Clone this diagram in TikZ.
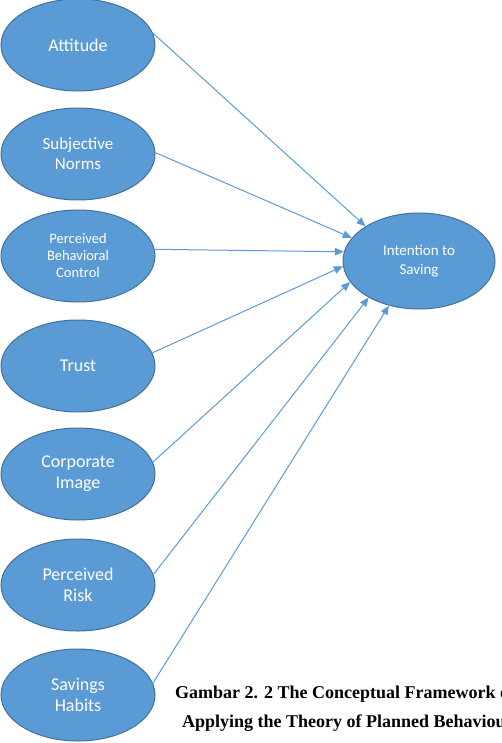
\documentclass[tikz,border=0pt]{standalone}
\usepackage{fontspec}
\setmainfont{Liberation Serif}
\newfontfamily\calib{Carlito}
\usetikzlibrary{shapes.geometric,arrows.meta}
\definecolor{ofill}{HTML}{5B9BD5}
\definecolor{oline}{HTML}{41719C}
\tikzset{
  blob/.style={ellipse, draw=oline, line width=1pt, fill=ofill, text=white,
    minimum width=154pt, minimum height=92pt, inner sep=0pt, align=center, font=\calib},
  link/.style={draw=ofill, line width=1pt, -{Triangle[length=9pt,width=7.5pt]}},
  captext/.style={anchor=base west, inner sep=0pt, font=\fontsize{18}{20}\selectfont\bfseries}
}
\begin{document}
\begin{tikzpicture}[x=1pt,y=-1pt]
\useasboundingbox (0,0) rectangle (502,743);
\clip (0,0) rectangle (502,743);
\node[blob, font=\calib\fontsize{18}{22}\selectfont] (att) at (78,45) {Attitude};
\node[blob, font=\calib\fontsize{17}{20}\selectfont] (sn) at (78,154) {Subjective\\Norms};
\node[blob, font=\calib\fontsize{14.5}{17}\selectfont] (pbc) at (78,256) {Perceived\\Behavioral\\Control};
\node[blob, font=\calib\fontsize{18}{22}\selectfont] (tr) at (78,366) {Trust};
\node[blob, font=\calib\fontsize{18}{21}\selectfont] (ci) at (78,474) {Corporate\\Image};
\node[blob, font=\calib\fontsize{18}{21}\selectfont] (pr) at (78,585) {Perceived\\Risk};
\node[blob, font=\calib\fontsize{18}{21}\selectfont] (sh) at (78,695) {Savings\\Habits};
\node[blob, minimum width=152pt, minimum height=96pt, font=\calib\fontsize{15}{19}\selectfont] (its) at (419,261) {Intention to\\Saving};
\draw[link] (att.9) -- (its.147);
\draw[link] (sn.1) -- (its.161);
\draw[link] (pbc.5) -- (its.173);
\draw[link] (tr.10) -- (its.184);
\draw[link] (ci.9) -- (its.197);
\draw[link] (pr.8) -- (its.216);
\draw[link] (sh.9) -- (its.236);
\node[captext] (c1) at (175,698) {Gambar 2. 2 The Conceptual Framework of};
\node[captext] (c2) at (182,727) {Applying the Theory of Planned Behaviour};
\end{tikzpicture}
\end{document}
